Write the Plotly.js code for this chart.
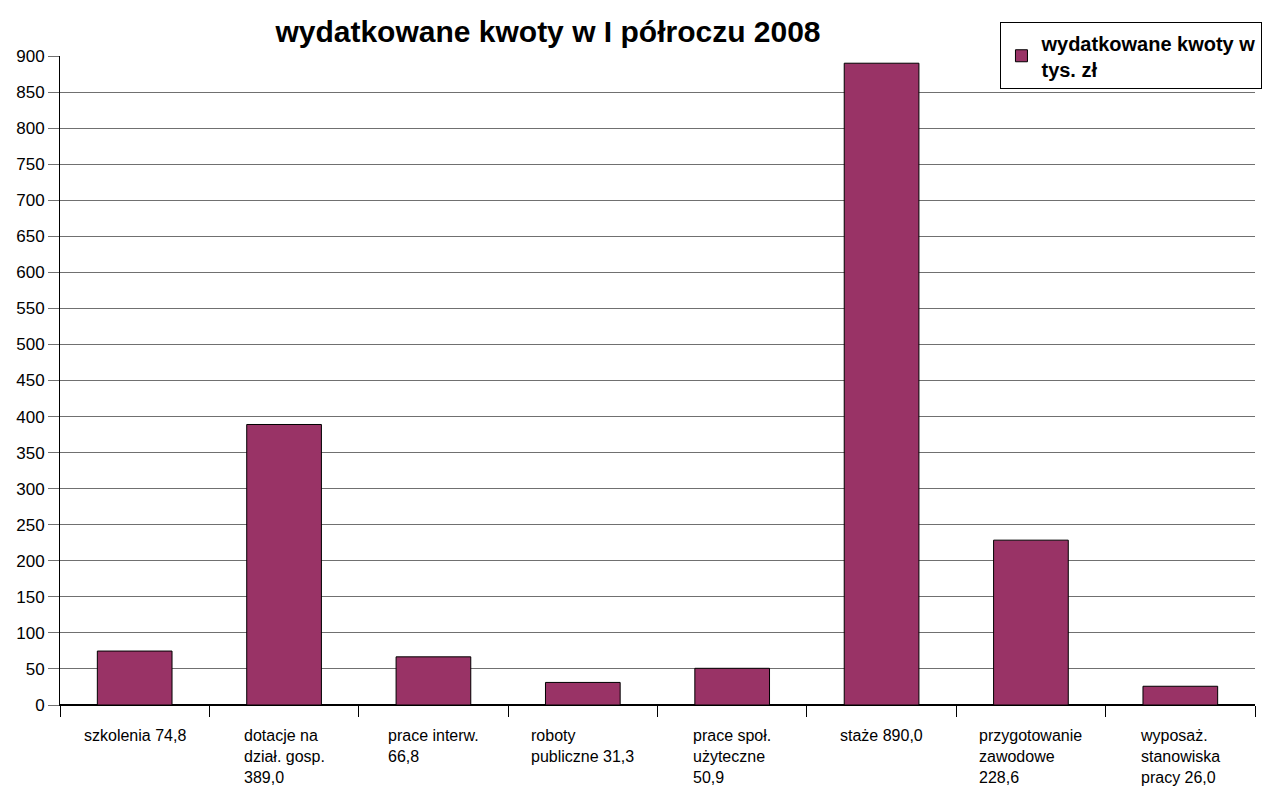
<!DOCTYPE html>
<html>
<head>
<meta charset="utf-8">
<script src="https://cdn.plot.ly/plotly-3.0.1.min.js"></script>
<style>
  body { margin: 0; background: #fff; }
  #wykres { width: 1267px; height: 786px; }
</style>
</head>
<body>
<div id="wykres"></div>
<script>
// dane (tys. zł)
const kategorie = ['szkolenia', 'dotacje', 'prace interw.', 'roboty publiczne',
  'prace społ.', 'staże', 'przygotowanie', 'wyposaż.'];
const etykiety = [
  'szkolenia 74,8',
  'dotacje na<br>dział. gosp.<br>389,0',
  'prace interw.<br>66,8',
  'roboty<br>publiczne 31,3',
  'prace społ.<br>użyteczne<br>50,9',
  'staże 890,0',
  'przygotowanie<br>zawodowe<br>228,6',
  'wyposaż.<br>stanowiska<br>pracy 26,0'
];
const kwoty = [74.8, 389.0, 66.8, 31.3, 50.9, 890.0, 228.6, 26.0];
const wartosciOsi = [0, 50, 100, 150, 200, 250, 300, 350, 400, 450, 500,
  550, 600, 650, 700, 750, 800, 850, 900];

const czcionka = 'Liberation Sans, Arial, sans-serif';

const traza = {
  type: 'bar',
  x: kategorie,
  y: kwoty,
  name: 'wydatkowane kwoty w<br>tys. zł',
  width: 0.5,
  marker: { color: '#993366', line: { color: '#000', width: 1 } },
  hoverinfo: 'y'
};

// etykiety kategorii: blok wyśrodkowany, linie wyrównane do lewej
const adnotacje = etykiety.map((tekst, i) => ({
  xref: 'x',
  yref: 'paper',
  x: kategorie[i],
  y: 0,
  yshift: -21,
  xanchor: 'center',
  yanchor: 'top',
  align: 'left',
  showarrow: false,
  borderpad: 0,
  text: tekst,
  font: { family: czcionka, size: 16, color: '#000' }
}));

const uklad = {
  width: 1267,
  height: 786,
  margin: { l: 60, r: 12, t: 56, b: 81, autoexpand: false },
  paper_bgcolor: '#fff',
  plot_bgcolor: '#fff',
  font: { family: czcionka, color: '#000' },
  title: {
    text: 'wydatkowane kwoty w I półroczu 2008',
    font: { family: czcionka, size: 30, weight: 'bold', color: '#000' },
    xref: 'container',
    x: 0.4325,
    xanchor: 'center',
    yref: 'container',
    y: 0.96,
    yanchor: 'middle'
  },
  xaxis: {
    type: 'category',
    showticklabels: false,
    tickson: 'boundaries',
    ticks: 'outside',
    ticklen: 11,
    tickcolor: '#000',
    showgrid: false,
    showline: true,
    linecolor: '#000',
    linewidth: 1
  },
  yaxis: {
    range: [0, 900],
    tickvals: wartosciOsi,
    ticktext: wartosciOsi.map(String),
    ticks: 'outside',
    ticklen: 11,
    tickcolor: '#707070',
    tickfont: { family: czcionka, size: 17, color: '#000' },
    showgrid: true,
    gridcolor: '#707070',
    gridwidth: 1,
    showline: true,
    linecolor: '#000',
    linewidth: 1,
    zeroline: true,
    zerolinecolor: '#000',
    zerolinewidth: 2
  },
  showlegend: true,
  legend: {
    x: 0.787,
    y: 1.052,
    xanchor: 'left',
    yanchor: 'top',
    bgcolor: 'rgba(0,0,0,0)',
    bordercolor: '#000',
    borderwidth: 1,
    tracegroupgap: 0,
    font: { family: czcionka, size: 20, weight: 'bold', color: '#000' }
  },
  bargap: 0.5,
  annotations: adnotacje
};

Plotly.newPlot('wykres', [traza], uklad, { displayModeBar: false, staticPlot: true });
</script>
</body>
</html>
